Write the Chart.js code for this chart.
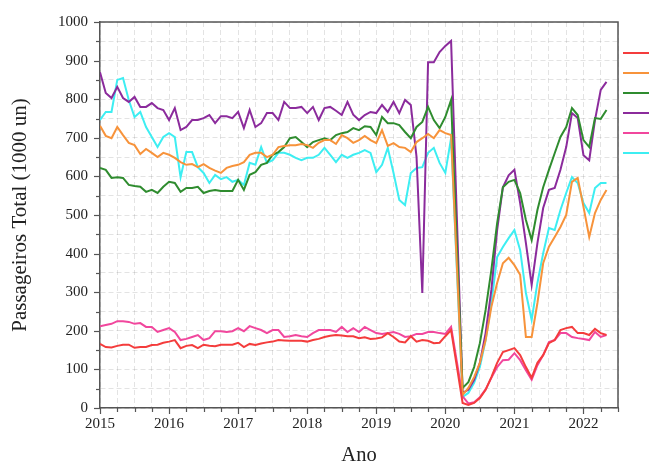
<!DOCTYPE html>
<html>
<head>
<meta charset="utf-8">
<script src="https://cdn.jsdelivr.net/npm/chart.js@4.4.1/dist/chart.umd.min.js"></script>
<style>
  html, body { margin: 0; padding: 0; background: #ffffff; }
  #wrap { width: 649px; height: 466px; }
</style>
</head>
<body>
<div id="wrap"><canvas id="c" width="649" height="466"></canvas></div>
<script>
// Monthly totals, January 2015 to May 2022 (thousands of passengers)
const START_YEAR = 2015;
const MONTH_COUNT = 89;
const months = Array.from({ length: MONTH_COUNT }, (_, i) => START_YEAR + i / 12);

const yearTicks = [2015, 2016, 2017, 2018, 2019, 2020, 2021, 2022];
const valueTicks = [0, 100, 200, 300, 400, 500, 600, 700, 800, 900, 1000];

const seriesRed = [
  166, 158, 157, 161, 164, 164, 156, 158, 158, 163, 164, 169,
  172, 176, 155, 161, 163, 155, 164, 161, 160, 164, 164, 164,
  169, 158, 166, 163, 167, 170, 172, 176, 175, 174, 174, 174,
  172, 176, 179, 184, 187, 189, 188, 186, 186, 181, 183, 179,
  180, 183, 194, 184, 172, 170, 186, 172, 176, 174, 168, 169,
  186, 202, 108, 13, 8, 13, 26, 47, 80, 117, 145, 150,
  155, 137, 106, 78, 117, 137, 168, 176, 202, 207, 210, 194,
  194, 189, 205, 194, 189
];
const seriesOrange = [
  731, 705, 699, 728, 707, 687, 681, 658, 671, 661, 650, 661,
  656, 648, 637, 630, 632, 624, 632, 622, 615, 609, 622, 627,
  630, 637, 656, 661, 661, 650, 656, 676, 679, 681, 681, 684,
  681, 674, 687, 694, 694, 684, 707, 699, 687, 694, 705, 694,
  686, 720, 679, 686, 676, 674, 663, 689, 699, 710, 699, 720,
  712, 707, 370, 34, 52, 80, 117, 176, 262, 324, 375, 389,
  370, 345, 184, 184, 272, 375, 418, 443, 469, 500, 586, 596,
  521, 443, 505, 539, 565
];
const seriesGreen = [
  622, 617, 596, 598, 596, 578, 575, 573, 560, 565, 557, 573,
  586, 583, 560, 570, 570, 573, 557, 562, 565, 562, 562, 562,
  591, 565, 604, 611, 630, 635, 656, 663, 676, 699, 702, 689,
  676, 689, 694, 699, 694, 707, 712, 715, 725, 720, 730, 728,
  707, 754, 738, 738, 733, 715, 699, 728, 741, 780, 746, 725,
  754, 798, 420, 52, 67, 106, 168, 254, 358, 479, 572, 586,
  591, 557, 487, 435, 513, 572, 617, 660, 702, 728, 777, 759,
  694, 676, 751, 749, 772
];
const seriesPurple = [
  870, 816, 803, 832, 803, 793, 806, 780, 780, 790, 777, 772,
  746, 777, 720, 728, 746, 746, 751, 759, 738, 756, 756, 751,
  767, 725, 772, 728, 738, 764, 764, 746, 793, 777, 777, 780,
  764, 780, 746, 777, 780, 770, 759, 793, 760, 746, 759, 767,
  764, 785, 767, 793, 764, 798, 785, 650, 298, 896, 896, 922,
  938, 951, 495, 39, 47, 73, 117, 194, 306, 461, 572, 603,
  617, 531, 427, 319, 427, 518, 565, 570, 617, 676, 764, 751,
  655, 642, 746, 824, 845
];
const seriesPink = [
  212, 215, 218, 225, 225, 223, 218, 220, 210, 210, 197, 202,
  207, 197, 176, 179, 184, 189, 176, 181, 199, 199, 197, 199,
  207, 199, 212, 207, 202, 194, 202, 202, 184, 186, 189, 186,
  184, 194, 202, 202, 202, 197, 210, 197, 207, 197, 210, 202,
  194, 192, 194, 197, 192, 184, 186, 192, 192, 197, 197, 194,
  192, 210, 120, 30, 12, 15, 28, 48, 78, 106, 124, 125,
  142, 124, 98, 73, 111, 137, 171, 176, 194, 194, 184, 181,
  179, 176, 197, 184, 189
];
const seriesCyan = [
  746, 767, 767, 850, 855, 798, 754, 767, 728, 702, 676, 702,
  712, 702, 598, 663, 663, 624, 609, 583, 604, 593, 598, 586,
  591, 578, 635, 630, 676, 635, 642, 661, 661, 656, 648, 642,
  648, 648, 656, 674, 656, 637, 656, 648, 656, 661, 668, 661,
  611, 630, 674, 609, 539, 526, 609, 622, 624, 661, 674, 635,
  609, 699, 360, 29, 39, 65, 106, 176, 272, 391, 417, 440,
  461, 409, 298, 228, 324, 401, 466, 461, 513, 557, 598, 583,
  531, 505, 570, 583, 583
];

const seriesList = [
  { values: seriesRed,    color: '#f43c3c' },
  { values: seriesOrange, color: '#f7933b' },
  { values: seriesGreen,  color: '#2f8c2f' },
  { values: seriesPurple, color: '#8b2b9c' },
  { values: seriesPink,   color: '#f1479d' },
  { values: seriesCyan,   color: '#3deef2' }
];

const SERIF = "'Liberation Serif', 'DejaVu Serif', serif";
const AXIS_COLOR = '#555555';

// Outward tick marks: longer at labelled values, shorter in between
const tickMarks = {
  id: 'tickMarks',
  afterDraw(chart) {
    const { ctx, scales: { x, y }, chartArea } = chart;
    ctx.save();
    ctx.strokeStyle = AXIS_COLOR;
    ctx.lineWidth = 1.2;
    x.ticks.forEach(t => {
      const px = Math.round(x.getPixelForValue(t.value)) + 0.5;
      const len = yearTicks.includes(t.value) ? 6 : 4;
      ctx.beginPath();
      ctx.moveTo(px, chartArea.bottom);
      ctx.lineTo(px, chartArea.bottom + len);
      ctx.stroke();
    });
    y.ticks.forEach(t => {
      const py = Math.round(y.getPixelForValue(t.value)) + 0.5;
      const len = valueTicks.includes(t.value) ? 6 : 4;
      ctx.beginPath();
      ctx.moveTo(chartArea.left, py);
      ctx.lineTo(chartArea.left - len, py);
      ctx.stroke();
    });
    // top and right frame lines
    ctx.lineWidth = 1.5;
    ctx.beginPath();
    ctx.moveTo(chartArea.left, chartArea.top);
    ctx.lineTo(chartArea.right, chartArea.top);
    ctx.lineTo(chartArea.right, chartArea.bottom);
    ctx.stroke();
    ctx.restore();
  }
};

// Legend keys: a short coloured line per series at the right edge
const legendKeys = {
  id: 'legendKeys',
  afterDraw(chart) {
    const { ctx } = chart;
    ctx.save();
    ctx.lineWidth = 2;
    chart.data.datasets.forEach((ds, i) => {
      const yPos = 53 + i * 20;
      ctx.strokeStyle = ds.borderColor;
      ctx.beginPath();
      ctx.moveTo(623, yPos);
      ctx.lineTo(649, yPos);
      ctx.stroke();
    });
    ctx.restore();
  }
};

new Chart(document.getElementById('c'), {
  type: 'line',
  data: {
    datasets: seriesList.map(s => ({
      data: s.values.map((v, i) => ({ x: months[i], y: v })),
      borderColor: s.color,
      backgroundColor: s.color,
      borderWidth: 2,
      pointRadius: 0,
      tension: 0,
      fill: false
    }))
  },
  options: {
    responsive: false,
    animation: false,
    devicePixelRatio: 1,
    layout: { padding: { top: 22, right: 31, left: 0, bottom: 0 } },
    plugins: { legend: { display: false }, tooltip: { enabled: false } },
    scales: {
      x: {
        type: 'linear',
        min: 2015,
        max: 2022.5,
        afterFit(scale) { scale.height = 58; },
        ticks: {
          stepSize: 0.25,
          autoSkip: false,
          maxRotation: 0,
          includeBounds: false,
          padding: 7,
          color: '#222222',
          font: { family: SERIF, size: 15 },
          callback: v => (yearTicks.includes(v) ? String(v) : '')
        },
        grid: {
          color: 'rgba(0,0,0,0.11)',
          lineWidth: 1,
          drawTicks: false
        },
        border: { display: true, color: AXIS_COLOR, width: 1.5, dash: [5, 3] },
        title: {
          display: true,
          text: 'Ano',
          color: '#222222',
          font: { family: SERIF, size: 20.5, lineHeight: 1 },
          padding: { top: 0, bottom: 0 }
        }
      },
      y: {
        min: 0,
        max: 1000,
        afterFit(scale) { scale.width = 100; },
        ticks: {
          stepSize: 50,
          autoSkip: false,
          padding: 12,
          color: '#222222',
          font: { family: SERIF, size: 15 },
          callback: v => (valueTicks.includes(v) ? String(v) : '')
        },
        grid: {
          color: 'rgba(0,0,0,0.11)',
          lineWidth: 1,
          drawTicks: false
        },
        border: { display: true, color: AXIS_COLOR, width: 1.5, dash: [5, 3] },
        title: {
          display: true,
          text: 'Passageiros Total (1000 un)',
          color: '#222222',
          font: { family: SERIF, size: 21, lineHeight: 1.2 },
          padding: { top: 8, bottom: 0 }
        }
      }
    }
  },
  plugins: [tickMarks, legendKeys]
});
</script>
</body>
</html>
